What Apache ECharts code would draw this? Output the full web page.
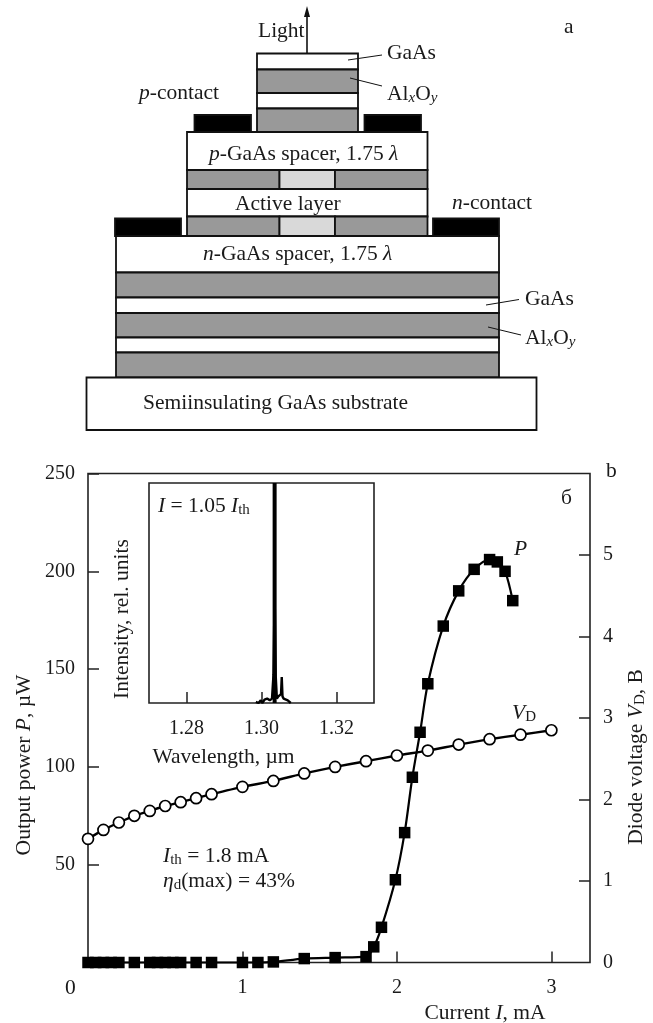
<!DOCTYPE html>
<html><head><meta charset="utf-8">
<style>html,body{margin:0;padding:0;background:#fff}#c{width:653px;height:1023px}</style>
<script src="https://cdn.jsdelivr.net/npm/echarts@6/dist/echarts.min.js"></script>
</head><body><div id="c"></div>
<script>
// ---- main plot data ----
const currentP = [0,0.05,0.1,0.15,0.2,0.3,0.4,0.45,0.5,0.55,0.6,0.7,0.8,1.0,1.1,1.2,1.4,1.6,1.8,1.85,1.9,1.99,2.05,2.1,2.15,2.2,2.3,2.4,2.5,2.6,2.65,2.7,2.75];
const powerP   = [0,0,0,0,0,0,0,0,0,0,0,0,0,0,0,0.3,2,2.5,3,8,18,42.3,66.4,94.7,117.7,142.5,172,190,201,206,204.8,200,185];
const currentV = [0,0.1,0.2,0.3,0.4,0.5,0.6,0.7,0.8,1.0,1.2,1.4,1.6,1.8,2.0,2.2,2.4,2.6,2.8,3.0];
const voltageV = [1.517,1.627,1.718,1.80,1.86,1.92,1.967,2.016,2.065,2.155,2.228,2.32,2.40,2.47,2.54,2.60,2.674,2.74,2.795,2.85];
const xTicks = [1,2,3];
const leftTicks = [50,100,150,200,250];
const rightTicks = [0,1,2,3,4,5];
// ---- inset spectrum data ----
const wavelength = [1.2985,1.2992,1.2998,1.3002,1.3008,1.3015,1.3022,1.3028,1.3032,1.3035,1.3038,1.3041,1.3045,1.3049,1.3052,1.3054,1.3056,1.3059,1.3064,1.3070,1.3078];
const intensity  = [0.005,0.0,0.012,0.0,0.015,0.02,0.012,0.02,0.13,0.5,0.12,0.02,0.03,0.025,0.04,0.118,0.03,0.02,0.025,0.012,0.0];
const peakWavelength = [1.3035,1.3035];
const peakIntensity  = [0,1];
const insetTicks = [1.28,1.30,1.32];

const F='"Liberation Serif","Times New Roman",serif', C='#1a1a1a', FS=21.5, TS=20;
const base={fontFamily:F,fontSize:FS,color:C,lineHeight:24};
const it={...base,fontStyle:'italic'};
const sub={fontFamily:F,fontSize:15,color:C,lineHeight:24,padding:[8,0,0,0]};
const subI={...sub,fontStyle:'italic'};
const rich={n:base,i:it,s:sub,si:subI};

// ---- device schematic: [x0,y0,x1,y1,fill] ----
const G='#999999',W='#ffffff',L='#d9d9d9',K='#000000';
const layers=[
 [257,53.5,358,69.5,W],[257,69.5,358,93,G],[257,93,358,108.5,W],[257,108.5,358,132,G],
 [194.5,115,251,132,K],[364.5,115,421,132,K],
 [187,132,427.5,170,W],
 [187,170,279.5,189,G],[279.5,170,335,189,L],[335,170,427.5,189,G],
 [187,189,427.5,216.5,W],
 [187,216.5,279.5,236,G],[279.5,216.5,335,236,L],[335,216.5,427.5,236,G],
 [115,218.5,181,236,K],[433,218.5,499,236,K],
 [116,236,499,272.5,W],[116,272.5,499,297.5,G],[116,297.5,499,313,W],[116,313,499,337.5,G],[116,337.5,499,352.5,W],[116,352.5,499,377.5,G],
 [86.5,377.5,536.5,430,W]
];
const leaders=[[348,60,382,55],[350,78,382,86],[486,305,519,299.5],[488,327,521,335]];
const labels=[
 [258,31,'{n|Light}'],[387,53,'{n|GaAs}'],[387,94,'{n|Al}{si|x}{n|O}{si|y}'],
 [139,93,'{i|p}{n|-contact}'],[564,27,'{n|a}'],
 [209,154,'{i|p}{n|-GaAs spacer, 1.75 }{i|λ}'],[235,204,'{n|Active layer}'],[452,203,'{i|n}{n|-contact}'],
 [203,254,'{i|n}{n|-GaAs spacer, 1.75 }{i|λ}'],[525,299,'{n|GaAs}'],[525,338,'{n|Al}{si|x}{n|O}{si|y}'],
 [143,403,'{n|Semiinsulating GaAs substrate}'],
 [606,471,'{n|b}'],[561,498,'{n|б}'],[514,549,'{i|P}'],[512,713,'{i|V}{s|D}'],
 [158,506,'{i|I}{n| = 1.05 }{i|I}{s|th}'],[163,856,'{i|I}{s|th}{n| = 1.8 mA}'],[163,881,'{i|η}{s|d}{n|(max) = 43%}'],
 [65,988,'{n|0}']
];
const graphic=[];
layers.forEach(l=>graphic.push({type:'rect',shape:{x:l[0],y:l[1],width:l[2]-l[0],height:l[3]-l[1]},style:{fill:l[4],stroke:'#111',lineWidth:1.8}}));
leaders.forEach(l=>graphic.push({type:'line',shape:{x1:l[0],y1:l[1],x2:l[2],y2:l[3]},style:{stroke:'#111',lineWidth:1},z:5}));
graphic.push({type:'line',shape:{x1:307,y1:53,x2:307,y2:12},style:{stroke:'#111',lineWidth:1.6}});
graphic.push({type:'polygon',shape:{points:[[307,6],[304,17],[310,17]]},style:{fill:'#111'}});
labels.forEach(l=>graphic.push({type:'text',x:l[0],y:l[1],z:6,style:{text:l[2],rich,textVerticalAlign:'middle',verticalAlign:'middle',fill:C,font:FS+'px '+F}}));

const border={show:true,borderColor:'#222',borderWidth:1.6,backgroundColor:'#fff',outerBoundsMode:'none'};
const tick=(vals)=>({show:true,inside:true,length:11,customValues:vals,lineStyle:{color:'#222',width:1.5}});
const lab=(vals,m,f)=>({show:true,margin:m,customValues:vals,fontFamily:F,fontSize:TS,color:C,formatter:f});
const nameStyle=(pad)=>({fontFamily:F,fontSize:FS,color:C,rich,padding:pad});
const hide={show:false};

const chart=echarts.init(document.getElementById('c'),null,{renderer:'canvas'});
chart.setOption({
 animation:false,
 graphic:{elements:graphic},
 grid:[
  {left:88,top:473.5,width:502,height:489,...border},
  {left:149,top:483,width:225,height:220,...border,z:3}
 ],
 xAxis:[
  {gridIndex:0,type:'value',min:0,max:3.25,splitLine:hide,axisLine:hide,axisTick:tick(xTicks),axisLabel:lab(xTicks,15),
   name:'{n|Current }{i|I}{n|, mA}',nameLocation:'middle',nameGap:39,nameMoveOverlap:false,nameTextStyle:nameStyle([0,0,0,292])},
  {gridIndex:1,type:'value',min:1.27,max:1.33,z:4,splitLine:hide,axisLine:hide,axisTick:tick(insetTicks),axisLabel:lab(insetTicks,16,v=>v.toFixed(2)),
   name:'{n|Wavelength, µm}',nameLocation:'middle',nameGap:42,nameMoveOverlap:false,nameTextStyle:nameStyle([0,76,0,0])}
 ],
 yAxis:[
  {gridIndex:0,type:'value',min:0,max:250,splitLine:hide,axisLine:hide,axisTick:tick(leftTicks),axisLabel:lab(leftTicks,13),
   name:'{n|Output power }{i|P}{n|, µW}',nameLocation:'middle',nameGap:52,nameRotate:90,nameMoveOverlap:false,nameTextStyle:nameStyle([0,94,0,0])},
  {gridIndex:0,type:'value',position:'right',min:0,max:6,splitLine:hide,axisLine:hide,axisTick:tick(rightTicks.slice(1)),axisLabel:lab(rightTicks,13),
   name:'{n|Diode voltage }{i|V}{s|D}{n|, B}',nameLocation:'middle',nameGap:34,nameRotate:90,nameMoveOverlap:false,nameTextStyle:nameStyle([0,78,0,0])},
  {gridIndex:1,type:'value',min:0,max:1,z:4,splitLine:hide,axisLine:hide,axisTick:hide,axisLabel:hide,
   name:'{n|Intensity, rel. units}',nameLocation:'middle',nameGap:15,nameRotate:90,nameMoveOverlap:false,nameTextStyle:nameStyle([0,52,0,0])}
 ],
 series:[
  {type:'line',name:'VD',xAxisIndex:0,yAxisIndex:1,data:currentV.map((x,i)=>[x,voltageV[i]]),smooth:0.2,clip:false,z:3,
   symbol:'circle',symbolSize:11,showAllSymbol:true,lineStyle:{color:'#000',width:2.4},itemStyle:{color:'#fff',borderColor:'#000',borderWidth:1.7}},
  {type:'line',name:'P',xAxisIndex:0,yAxisIndex:0,data:currentP.map((x,i)=>[x,powerP[i]]),smooth:0.3,clip:false,z:4,
   symbol:'rect',symbolSize:11.5,showAllSymbol:true,lineStyle:{color:'#000',width:2.2},itemStyle:{color:'#000'}},
  {type:'line',name:'Spectrum',xAxisIndex:1,yAxisIndex:2,data:wavelength.map((x,i)=>[x,intensity[i]]),showSymbol:false,symbol:'none',z:5,
   lineStyle:{color:'#000',width:2.4}},
  {type:'line',name:'Main peak',xAxisIndex:1,yAxisIndex:2,data:peakWavelength.map((x,i)=>[x,peakIntensity[i]]),showSymbol:false,symbol:'none',z:5,
   lineStyle:{color:'#000',width:4,cap:'butt'}}
 ]
});
</script></body></html>
